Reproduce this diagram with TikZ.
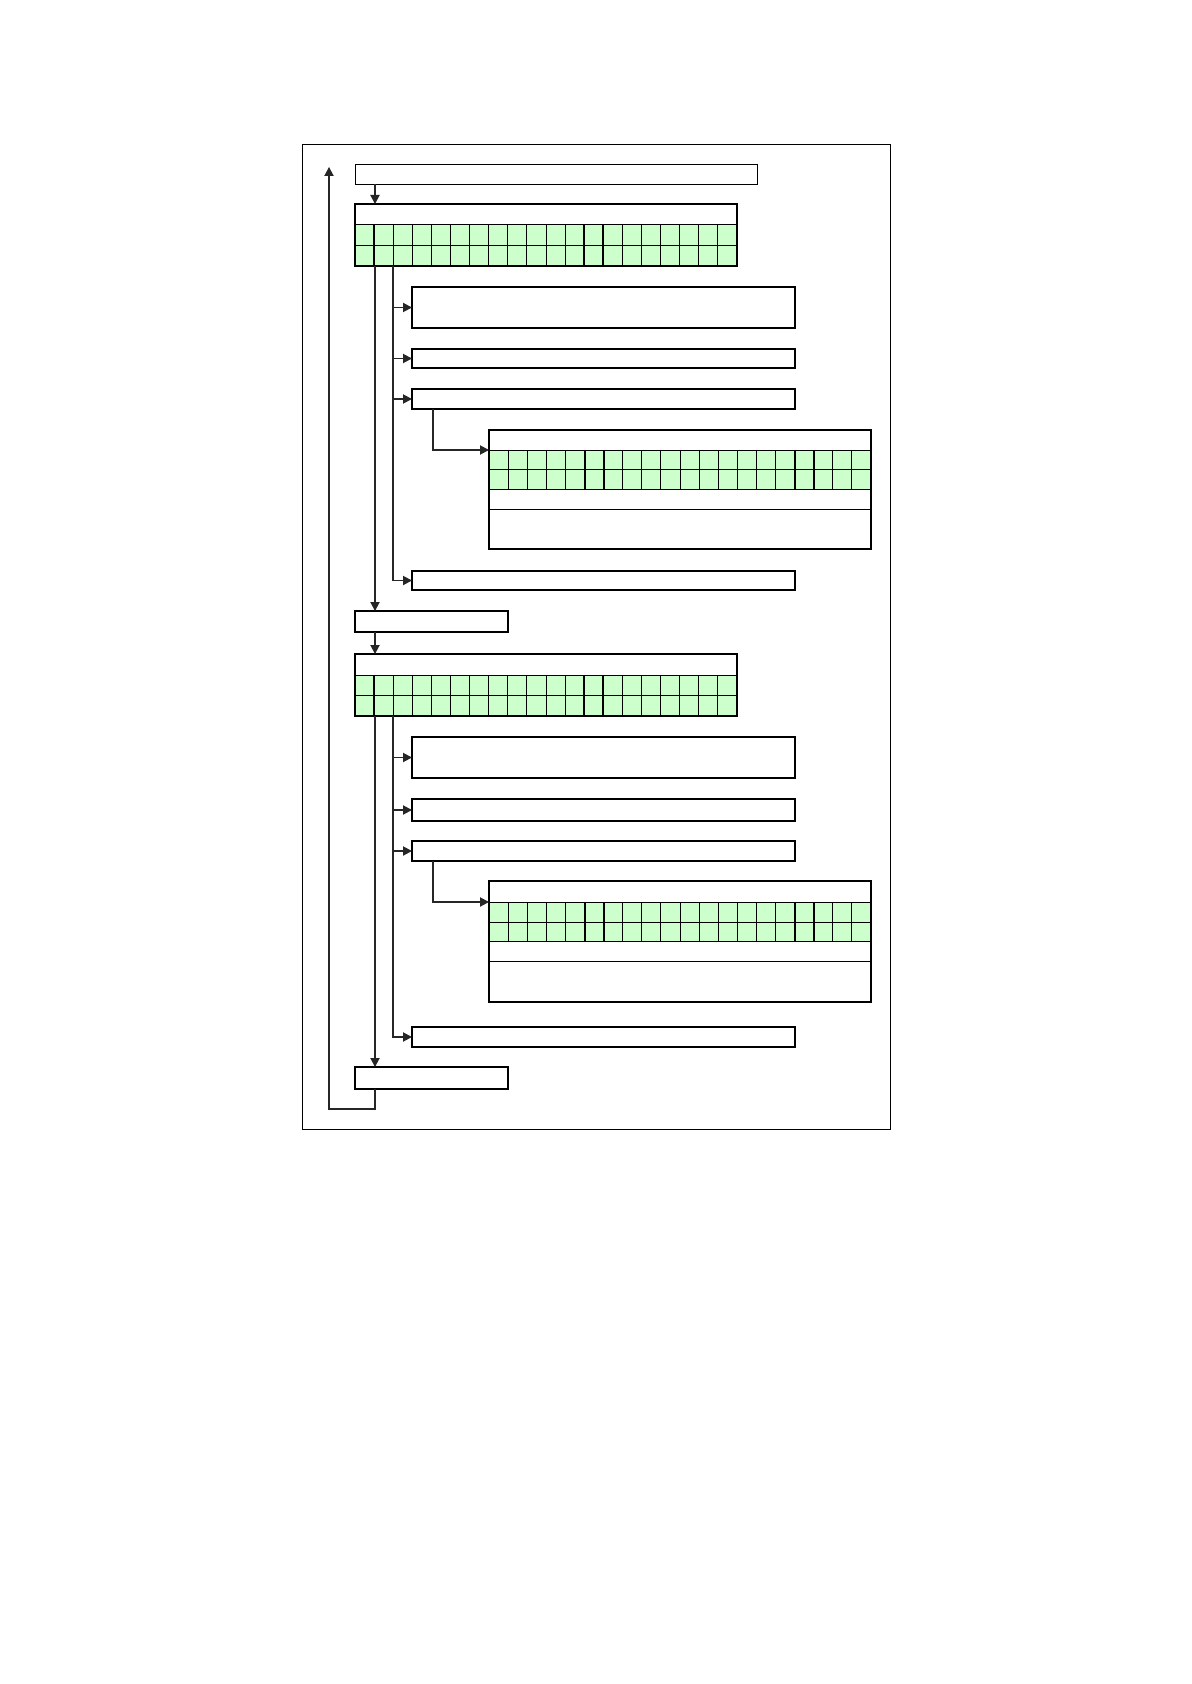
\documentclass[tikz,border=0pt]{standalone}
\usetikzlibrary{arrows.meta,fit}
\definecolor{cellgreen}{RGB}{204,255,204}
\tikzset{
  thickbox/.style={draw, line width=1.3pt, inner sep=0pt, outer sep=0pt},
  thinbox/.style={draw, line width=0.45pt, inner sep=0pt, outer sep=0pt},
  conn/.style={draw=black!85, line width=0.65pt},
  arr/.style={conn, -{Triangle[length=4.5pt,width=4.6pt]}},
  cellline/.style={line width=0.5pt},
  cellthick/.style={line width=1pt},
}
\newcommand\mygrid[5]{%
  \fill[cellgreen] (#1,#2) rectangle ({#1+382},#4);
  \draw[cellline] (#1,#2) -- ({#1+382},#2) (#1,#3) -- ({#1+382},#3) (#1,#4) -- ({#1+382},#4);
  \foreach \i in {1,...,19}{\draw[cellline] ({#1+\i*19.1},#2) -- ({#1+\i*19.1},#4);}
  \foreach \i in {#5}{\draw[cellthick] ({#1+\i*19.1},#2) -- ({#1+\i*19.1},#4);}
}
\begin{document}
\begin{tikzpicture}[x=0.5pt,y=-0.5pt]
\useasboundingbox (0,0) rectangle (1191,1684);

% green grids
\mygrid{355}{225}{245.5}{266}{1,12,13}
\mygrid{489}{450}{469.5}{489}{5,6,16,17}
\draw[cellline] (489,509) -- (871,509);
\mygrid{355}{675}{695.5}{716}{1,12,13}
\mygrid{489}{902}{922}{941}{5,6,16,17}
\draw[cellline] (489,961) -- (871,961);

% frame
\node[thinbox, fit={(302,144) (890,1129)}] (frame) {};

% boxes
\node[thinbox,  fit={(355,164) (757,184)}] (top) {};
\node[thickbox, fit={(355,204) (737,266)}] (big1) {};
\node[thickbox, fit={(412,287) (795,328)}] (A1) {};
\node[thickbox, fit={(412,349) (795,368)}] (B1) {};
\node[thickbox, fit={(412,389) (795,409)}] (C1) {};
\node[thickbox, fit={(489,430) (871,549)}] (in1) {};
\node[thickbox, fit={(412,571) (795,590)}] (D1) {};
\node[thickbox, fit={(355,611) (508,632)}] (S1) {};
\node[thickbox, fit={(355,654) (737,716)}] (big2) {};
\node[thickbox, fit={(412,737) (795,778)}] (A2) {};
\node[thickbox, fit={(412,799) (795,821)}] (B2) {};
\node[thickbox, fit={(412,841) (795,861)}] (C2) {};
\node[thickbox, fit={(489,881) (871,1002)}] (in2) {};
\node[thickbox, fit={(412,1027) (795,1047)}] (D2) {};
\node[thickbox, fit={(355,1067) (508,1089)}] (S2) {};

% helper coordinates
\coordinate (xa) at (375,0);
\coordinate (xb) at (393,0);
\coordinate (xc) at (433,0);
\coordinate (g1) at (489,450);
\coordinate (g2) at (489,902);
\coordinate (lb) at (375,1109);
\coordinate (lt) at (329,167);

% connectors, first half
\draw[arr] (top.south -| xa) -- (big1.north -| xa);
\draw[arr] (big1.south -| xa) -- (S1.north -| xa);
\draw[arr] (big1.south -| xb) |- (D1.west);
\draw[arr] (A1.west -| xb) -- (A1.west);
\draw[arr] (B1.west -| xb) -- (B1.west);
\draw[arr] (C1.west -| xb) -- (C1.west);
\draw[arr] (C1.south -| xc) |- (g1);

% connectors, second half
\draw[arr] (S1.south -| xa) -- (big2.north -| xa);
\draw[arr] (big2.south -| xa) -- (S2.north -| xa);
\draw[arr] (big2.south -| xb) |- (D2.west);
\draw[arr] (A2.west -| xb) -- (A2.west);
\draw[arr] (B2.west -| xb) -- (B2.west);
\draw[arr] (C2.west -| xb) -- (C2.west);
\draw[arr] (C2.south -| xc) |- (g2);

% loop back
\draw[arr] (S2.south -| lb) -- (lb) -| (lt);
\end{tikzpicture}
\end{document}
